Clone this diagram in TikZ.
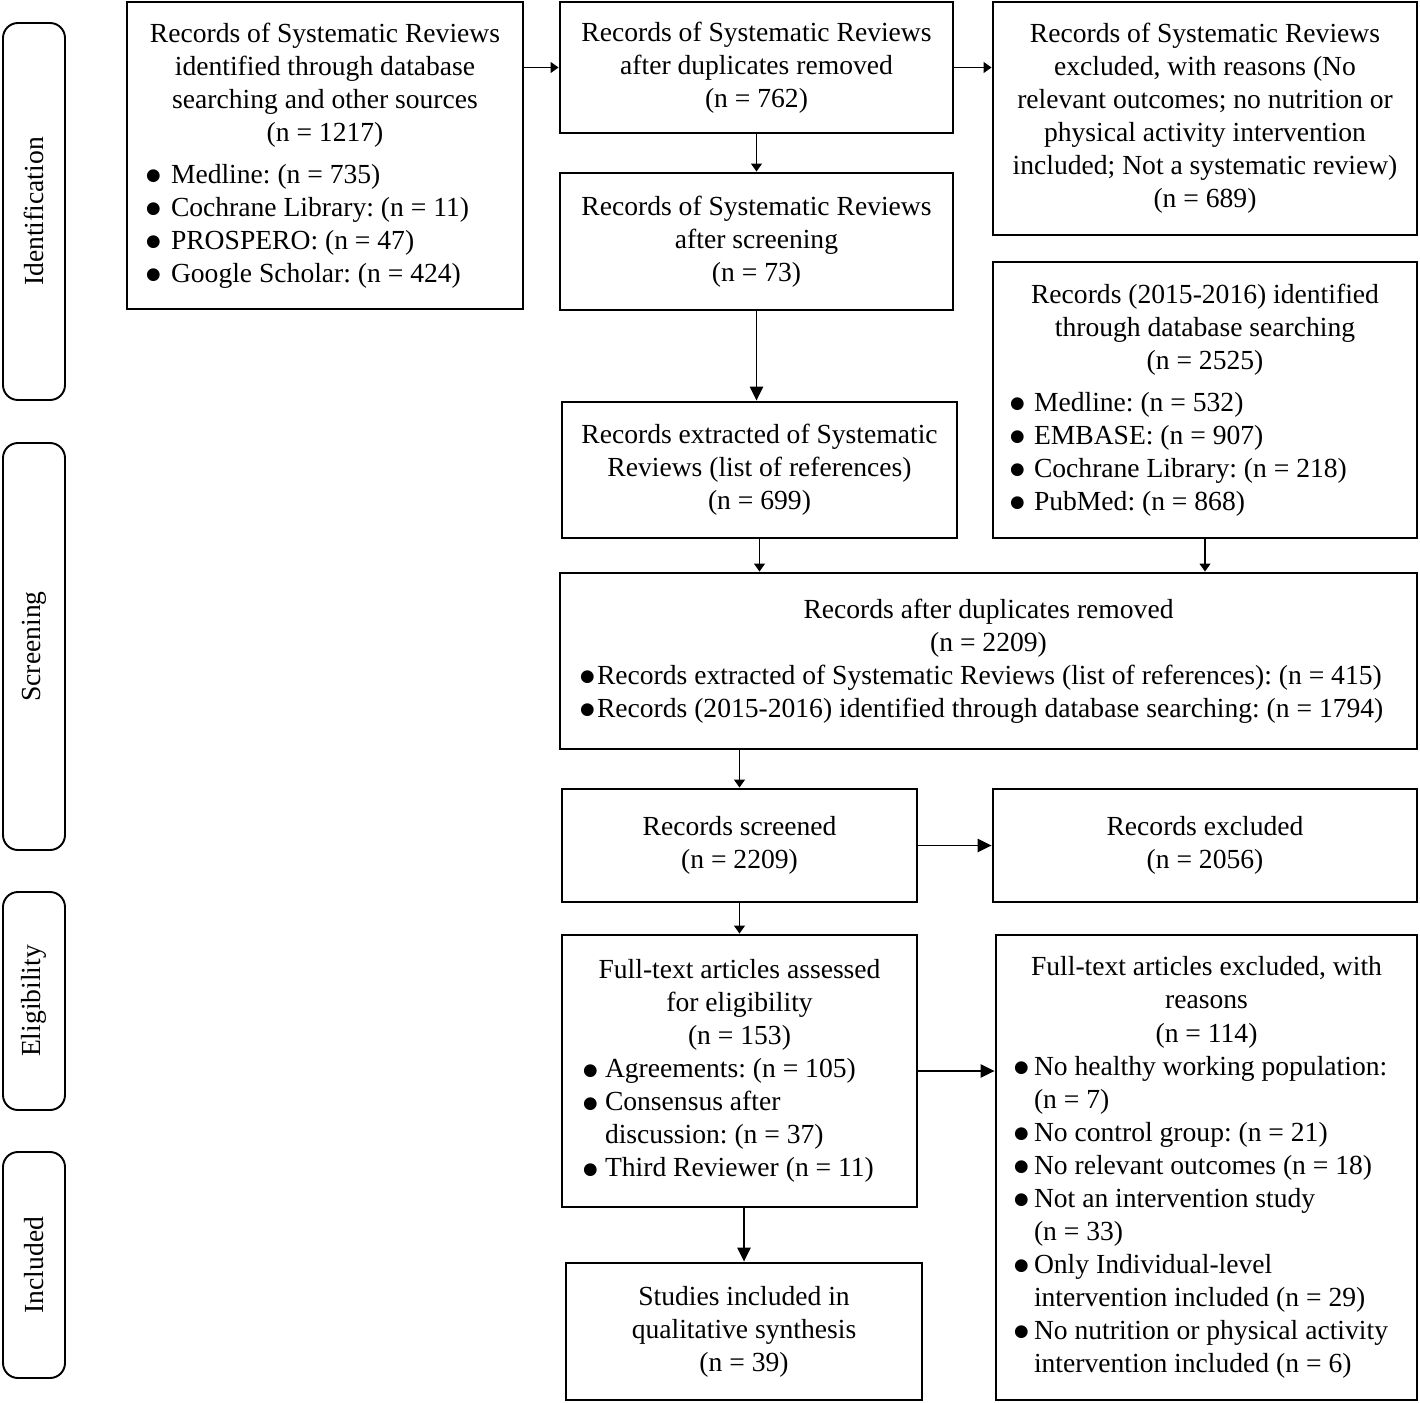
\documentclass[tikz,border=0pt]{standalone}
\usepackage{fontspec}
\setmainfont{Liberation Serif}
\newfontfamily\dotfont{DejaVu Sans}
\usetikzlibrary{arrows.meta}
\frenchspacing
\newcommand\hd[2]{\makebox[#1][c]{#2}}
\newcommand\bul[2][0.45cm]{\makebox[#1][l]{\raisebox{1.4pt}{\dotfont\fontsize{9.5}{9.5}\selectfont ●}}#2}
\newcommand\cont[2][0.45cm]{\hspace*{#1}#2}
\tikzset{
  box/.style={draw, line width=1.6pt, inner sep=0pt},
  txtbox/.style={box, align=left},
  phase/.style={draw, line width=1.1pt, rounded corners=0.3cm, inner sep=0pt, rotate=90, minimum height=1.24cm},
  arr/.style={-{Triangle[length=4.5pt,width=6pt]}, line width=1.1pt},
  bigarr/.style={-{Triangle[length=8pt,width=7.5pt]}, line width=1.1pt}
}
\begin{document}
\begin{tikzpicture}[font=\fontsize{15.7}{18.8}\selectfont]
        \useasboundingbox (0,0) rectangle (28.4,-28.06);
        \node[phase, minimum width=7.54cm] (phid) at (0.68,-4.23) {Identification};
        \node[phase, minimum width=8.14cm] (phscr) at (0.68,-12.93) {Screening};
        \node[phase, minimum width=4.36cm] (phel) at (0.68,-20.02) {Eligibility};
        \node[phase, minimum width=4.52cm] (phinc) at (0.68,-25.3) {Included};
        \node[txtbox, minimum width=7.92cm, minimum height=6.14cm] (ident) at (6.5,-3.11) {\hd{7.16cm}{Records of Systematic Reviews}\\ \hd{7.16cm}{identified through database}\\ \hd{7.16cm}{searching and other sources}\\ \hd{7.16cm}{(n = 1217)}\\[5pt]
          \bul[0.5cm]{Medline: (n = 735)}\\
          \bul[0.5cm]{Cochrane Library: (n = 11)}\\
          \bul[0.5cm]{PROSPERO: (n = 47)}\\
          \bul[0.5cm]{Google Scholar: (n = 424)}};
        \node[box, align=center, minimum width=7.86cm, minimum height=2.62cm] (dupsr) at (15.13,-1.35) {Records of Systematic Reviews\\ after duplicates removed\\ (n = 762)};
        \node[box, align=center, minimum width=8.48cm, minimum height=4.66cm] (exclsr) at (24.1,-2.37) {Records of Systematic Reviews\\ excluded, with reasons (No\\ relevant outcomes; no nutrition or\\ physical activity intervention\\ included; Not a systematic review)\\ (n = 689)};
        \node[box, align=center, minimum width=7.86cm, minimum height=2.74cm] (scrsr) at (15.13,-4.83) {Records of Systematic Reviews\\ after screening\\ (n = 73)};
        \node[txtbox, minimum width=8.48cm, minimum height=5.52cm] (srch) at (24.1,-8.0) {\hd{7.8cm}{Records (2015-2016) identified}\\ \hd{7.8cm}{through database searching}\\ \hd{7.8cm}{(n = 2525)}\\[5pt]
          \bul[0.48cm]{Medline: (n = 532)}\\
          \bul[0.48cm]{EMBASE: (n = 907)}\\
          \bul[0.48cm]{Cochrane Library: (n = 218)}\\
          \bul[0.48cm]{PubMed: (n = 868)}};
        \node[box, align=center, minimum width=7.9cm, minimum height=2.72cm] (extr) at (15.19,-9.4) {Records extracted of Systematic\\ Reviews (list of references)\\ (n = 699)};
        \node[txtbox, minimum width=17.14cm, minimum height=3.52cm] (dupall) at (19.77,-13.22) {\hd{16.34cm}{Records after duplicates removed}\\ \hd{16.34cm}{(n = 2209)}\\
          \bul[0.34cm]{Records extracted of Systematic Reviews (list of references): (n = 415)}\\
          \bul[0.34cm]{Records (2015-2016) identified through database searching: (n = 1794)}};
        \node[box, align=center, minimum width=7.1cm, minimum height=2.26cm] (screened) at (14.79,-16.91) {Records screened\\ (n = 2209)};
        \node[box, align=center, minimum width=8.48cm, minimum height=2.26cm] (excluded) at (24.1,-16.91) {Records excluded\\ (n = 2056)};
        \node[txtbox, minimum width=7.1cm, minimum height=5.44cm] (fulltext) at (14.79,-21.42) {\hd{6.26cm}{Full-text articles assessed}\\ \hd{6.26cm}{for eligibility}\\ \hd{6.26cm}{(n = 153)}\\
          \bul[0.44cm]{Agreements: (n = 105)}\\
          \bul[0.44cm]{Consensus after}\\ \cont[0.44cm]{discussion: (n = 37)}\\
          \bul[0.44cm]{Third Reviewer (n = 11)}};
        \node[txtbox, minimum width=8.42cm, minimum height=9.3cm] (ftexcl) at (24.13,-23.35) {\hd{7.7cm}{Full-text articles excluded, with}\\ \hd{7.7cm}{reasons}\\ \hd{7.7cm}{(n = 114)}\\
          \bul[0.4cm]{No healthy working population:}\\ \cont[0.4cm]{(n = 7)}\\
          \bul[0.4cm]{No control group: (n = 21)}\\
          \bul[0.4cm]{No relevant outcomes (n = 18)}\\
          \bul[0.4cm]{Not an intervention study}\\ \cont[0.4cm]{(n = 33)}\\
          \bul[0.4cm]{Only Individual-level}\\ \cont[0.4cm]{intervention included (n = 29)}\\
          \bul[0.4cm]{No nutrition or physical activity}\\ \cont[0.4cm]{intervention included (n = 6)}};
        \node[box, align=center, minimum width=7.12cm, minimum height=2.74cm] (included) at (14.88,-26.63) {Studies included in\\ qualitative synthesis\\ (n = 39)};
        \draw[arr] (ident.east |- dupsr.west) -- (dupsr.west);
        \draw[arr] (dupsr.east) -- (dupsr.east -| exclsr.west);
        \draw[arr] (dupsr.south) -- (scrsr.north);
        \draw[bigarr] (scrsr.south) -- (scrsr.south |- extr.north);
        \draw[arr] (extr.south) -- (extr.south |- dupall.north);
        \draw[arr] (srch.south) -- (srch.south |- dupall.north);
        \draw[arr] (screened.north |- dupall.south) -- (screened.north);
        \draw[bigarr] (screened.east) -- (excluded.west);
        \draw[arr] (screened.south) -- (fulltext.north);
        \draw[bigarr] (fulltext.east) -- (fulltext.east -| ftexcl.west);
        \draw[bigarr] (included.north |- fulltext.south) -- (included.north);
\end{tikzpicture}
\end{document}
